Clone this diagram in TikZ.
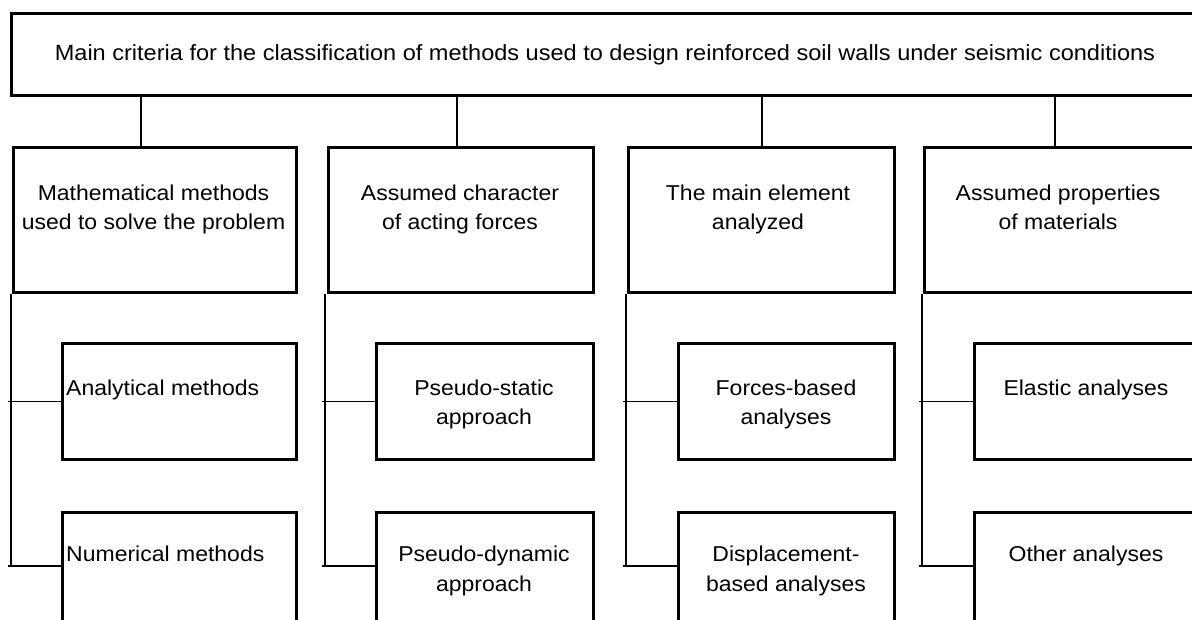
\documentclass[tikz,border=0pt]{standalone}
\usepackage{fontspec}
\setmainfont{Liberation Sans}[FakeStretch=1.07]
\begin{document}
\begin{tikzpicture}[x=1pt,y=-1pt,
  font=\fontsize{21.5}{29.5}\selectfont,
  box/.style={draw, line width=3pt, inner sep=0pt, anchor=north west},
  lbl/.style={inner sep=0pt, anchor=north, align=center},
  lbll/.style={inner sep=0pt, anchor=north west, align=left},
  conn/.style={line width=1.3pt}]
\useasboundingbox (0,0) rectangle (1192,619);
\clip (0,0) rectangle (1192,619);
% top box
\node[box, minimum width=1200pt, minimum height=82pt] (top) at (10,12) {};
\node[inner sep=0pt, anchor=base, font=\fontsize{22}{29.5}\selectfont] (ttop) at (605,60) {Main criteria for the classification of methods used to design reinforced soil walls under seismic conditions};
% level 2
\node[box, minimum width=283pt, minimum height=145pt] (c1) at (12,146) {};
\node[box, minimum width=265pt, minimum height=145pt] (c2) at (327,146) {};
\node[box, minimum width=266pt, minimum height=145pt] (c3) at (627,146) {};
\node[box, minimum width=290pt, minimum height=145pt] (c4) at (923,146) {};
\node[lbl] (tc1) at (153.5,184.6) {Mathematical methods\\used to solve the problem};
\node[lbl] (tc2) at (460,184.6) {Assumed character\\of acting forces};
\node[lbl] (tc3) at (758,184.6) {The main element\\analyzed};
\node[lbl] (tc4) at (1058,184.6) {Assumed properties\\of materials};
% level 3
\node[box, minimum width=234pt, minimum height=116pt] (s1a) at (61,342) {};
\node[box, minimum width=234pt, minimum height=140pt] (s1b) at (61,511) {};
\node[box, minimum width=217pt, minimum height=116pt] (s2a) at (375,342) {};
\node[box, minimum width=217pt, minimum height=140pt] (s2b) at (375,511) {};
\node[box, minimum width=216pt, minimum height=116pt] (s3a) at (677,342) {};
\node[box, minimum width=216pt, minimum height=140pt] (s3b) at (677,511) {};
\node[box, minimum width=240pt, minimum height=116pt] (s4a) at (973,342) {};
\node[box, minimum width=240pt, minimum height=140pt] (s4b) at (973,511) {};
\node[lbll] (ts1a) at (66,379.6) {Analytical methods};
\node[lbll] (ts1b) at (66,545.8) {Numerical methods};
\node[lbl] (ts2a) at (484,379.6) {Pseudo-static\\approach};
\node[lbl] (ts2b) at (484,545.8) {Pseudo-dynamic\\approach};
\node[lbl] (ts3a) at (786,379.6) {Forces-based\\analyses};
\node[lbl] (ts3b) at (786,545.8) {Displacement-\\based analyses};
\node[lbl] (ts4a) at (1086,379.6) {Elastic analyses};
\node[lbl] (ts4b) at (1086,545.8) {Other analyses};
% connectors from top
\coordinate (k1) at (141,0);
\coordinate (k2) at (457,0);
\coordinate (k3) at (762,0);
\coordinate (k4) at (1055,0);
\foreach \k/\c in {k1/c1,k2/c2,k3/c3,k4/c4}{
  \draw[conn] (top.south -| \k) -- (\c.north -| \k);
}
% branches
\coordinate (yb) at (0,566);
\foreach \c/\x/\a/\b in {c1/11/s1a/s1b, c2/325/s2a/s2b, c3/626/s3a/s3b, c4/922/s4a/s4b}{
  \coordinate (v) at (\x,0);
  \coordinate (h) at (\x-3,0);
  \draw[conn] (\c.south -| v) -- (v |- yb);
  \draw[conn] (\a.west -| h) -- (\a.west);
  \draw[conn] (yb -| h) -- (yb -| \b.west);
}
\end{tikzpicture}
\end{document}
